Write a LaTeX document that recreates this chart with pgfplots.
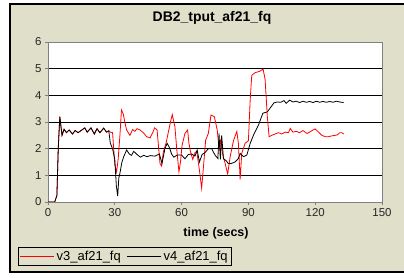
\documentclass[border=0pt]{standalone}
\usepackage{pgfplots}
\pgfplotsset{compat=1.18}
\usepackage{fontspec}
\setmainfont{Liberation Sans}
\definecolor{bg}{RGB}{224,223,202}
\definecolor{axgray}{RGB}{128,128,128}
\definecolor{vred}{RGB}{255,0,0}
\begin{document}
\begin{tikzpicture}
\useasboundingbox (0bp,0bp) rectangle (404bp,278bp);
\clip (0bp,0bp) rectangle (404bp,278bp);
\fill[white] (0bp,0bp) rectangle (404bp,278bp);
\filldraw[fill=bg,draw=black,line width=1.2bp] (10bp,6bp) rectangle (420bp,274bp);
\begin{axis}[
  at={(48bp,76bp)}, anchor=south west,
  scale only axis, width=334bp, height=160bp,
  xmin=0, xmax=150, ymin=0, ymax=6,
  xtick={0,30,60,90,120,150}, ytick={0,1,2,3,4,5,6},
  ymajorgrids, grid style={black, line width=0.9bp},
  axis background/.style={fill=white},
  axis line style={axgray, line width=0.9bp},
  tick align=outside, major tick length=3bp,
  tick style={axgray, line width=0.8bp},
  xtick pos=bottom, ytick pos=left,
  /pgf/number format/assume math mode=true,
  tick label style={font=\fontsize{11.5}{13}\selectfont, text=black!85},
  legend style={at={(axis description cs:-0.0898,-0.4)}, anchor=south west,
    draw=black, line width=0.8bp, fill=bg, legend columns=2,
    font=\fontsize{13}{15}\selectfont, inner sep=1.5bp,
    /tikz/every even column/.append style={column sep=4bp}},
  legend image code/.code={\draw[#1] (0bp,0bp) -- (34bp,0bp);},
]
\addplot[color=vred, draw=vred, line width=0.8bp] coordinates {
(0,0) (1,0) (2,0) (3,0) (4,0.25) (4.6,2.0) (5.3,3.2) (6.3,2.5) (7.2,2.73) (8.3,2.6) (9.5,2.7) (11,2.55) (12.2,2.68) (13.5,2.6) (15.2,2.7) (16.5,2.78) (17.6,2.62) (19.3,2.78) (20.8,2.55) (22,2.75) (23.3,2.6) (25,2.77) (26.3,2.62) (27.3,2.67) (28,2.62)
(29,2.6) (30,1.4) (30.8,1.13) (31.5,1.6) (32.3,2.5) (33,3.45) (33.8,3.3) (34.5,3.0) (35.3,2.7) (36.8,2.5) (38,2.72) (39,2.65) (40,2.75) (41.3,2.7) (42.8,2.6) (44.3,2.45) (45.8,2.4) (47,2.6) (47.9,2.78) (49,2.7) (50.3,1.44) (51,1.35) (51.8,1.88) (53,2.2) (54,2.6) (55,3.0) (55.8,3.28) (57,2.82) (57.8,2.0) (58.8,1.13) (59.5,1.5) (60.2,2.12) (61.5,2.57) (62.7,2.7) (63.3,2.2) (64,1.88) (65,1.6) (66,1.85) (66.8,1.9) (68,1.2) (69,0.52) (69.8,1.3) (70.8,2.32) (72,2.57) (73.2,3.26) (74.7,3.2) (76,2.7) (76.8,2.0) (77.5,2.3) (78.5,1.76) (79.4,1.5) (80.7,1.05) (81.8,1.7) (83.3,2.3) (84.8,2.65) (85.5,2.2) (86.3,0.85) (87,1.82) (88.5,2.2) (90,2.3) (90.8,3.83) (91.5,4.75) (93,4.85) (95,4.9) (96.6,4.98) (97.5,4.6) (98.5,3.2) (99.3,2.45) (100.5,2.5) (102,2.55) (103.5,2.6) (105,2.55) (106.5,2.62) (108,2.6) (108.8,2.76) (110,2.62) (111.5,2.65) (113,2.6) (114.5,2.68) (116.3,2.57) (117.5,2.62) (119,2.7) (120,2.74) (121.5,2.62) (123,2.5) (124.5,2.45) (126,2.45) (127.5,2.48) (129,2.5) (130,2.52) (131,2.6) (132,2.6) (132.8,2.55)
};
\addlegendentry{v3\_af21\_fq}
\addplot[color=black, draw=black, line width=0.8bp] coordinates {
(0,0) (1,0) (2,0) (3,0) (4,0.25) (4.6,2.0) (5.3,3.2) (6.3,2.5) (7.2,2.73) (8.3,2.6) (9.5,2.7) (11,2.55) (12.2,2.68) (13.5,2.6) (15.2,2.7) (16.5,2.78) (17.6,2.62) (19.3,2.78) (20.8,2.55) (22,2.75) (23.3,2.6) (25,2.77) (26.3,2.62) (27.3,2.67) (28,2.2) (29,2.0) (30,1.6) (30.7,0.6) (31.3,0.22) (31.8,0.9) (32.3,1.08) (33.2,1.5) (34,1.7) (35.3,1.95) (36.5,1.8) (37.5,1.75) (38.5,1.9) (40,1.78) (41.5,1.68) (43,1.75) (44.5,1.7) (46,1.74) (48,1.72) (50,1.8) (51.2,1.45) (52.5,2.0) (53.5,2.2) (54.5,2.05) (55.5,1.8) (56.5,1.68) (58,1.76) (60,1.76) (61.5,1.62) (63,1.78) (64.5,1.8) (66,1.72) (67,1.95) (68,1.5) (69.2,1.78) (70.5,1.85) (72,2.0) (73.5,2.0) (75,1.76) (76.3,1.63) (76.8,2.57) (77.4,1.6) (78,2.5) (78.8,1.62) (80,1.55) (81,1.44) (82.5,1.45) (84,1.5) (85.5,1.63) (86.3,1.82) (87.8,1.7) (89.3,1.76) (90.8,2.2) (92.5,2.55) (94.5,2.88) (96.5,3.33) (98.5,3.38) (100,3.55) (101.5,3.72) (103,3.75) (104.5,3.74) (106,3.8) (107,3.7) (108.5,3.82) (110,3.75) (111.5,3.78) (113,3.73) (114.5,3.78) (116,3.74) (117.5,3.77) (119,3.73) (120.5,3.78) (122,3.74) (123.5,3.77) (125,3.74) (126.5,3.77) (128,3.74) (129.5,3.78) (131,3.75) (132.8,3.73)
};
\addlegendentry{v4\_af21\_fq}
\end{axis}
\node[font=\fontsize{14}{16}\selectfont\bfseries] at (212bp,260bp) {DB2\_tput\_af21\_fq};
\node[font=\fontsize{12.5}{14}\selectfont\bfseries] at (216bp,45bp) {time (secs)};
\end{tikzpicture}
\end{document}
